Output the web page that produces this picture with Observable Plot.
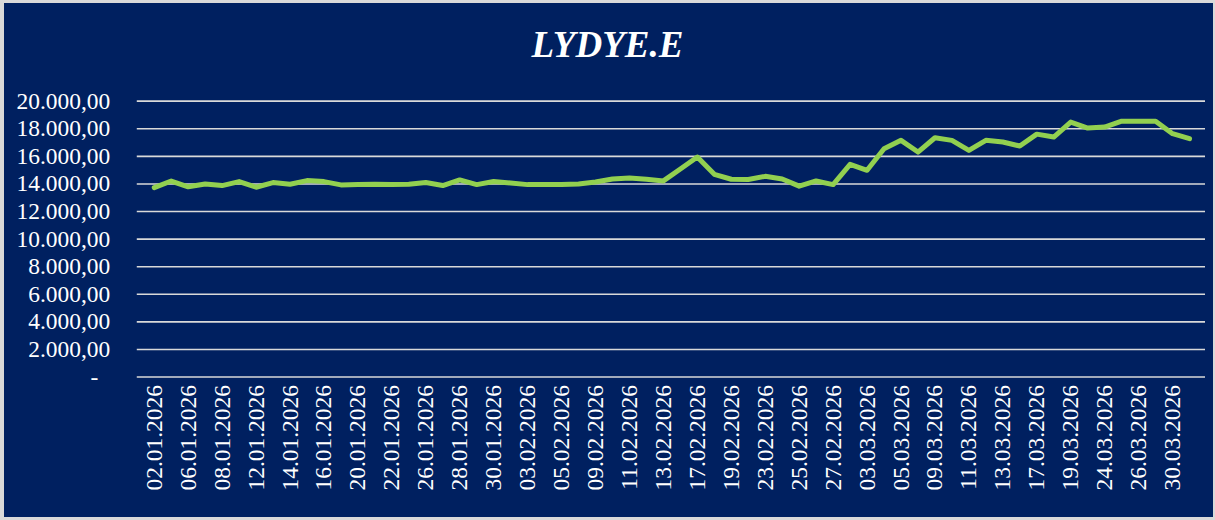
<!DOCTYPE html>
<html>
<head>
<meta charset="utf-8">
<script src="https://cdn.jsdelivr.net/npm/d3@7"></script>
<script src="https://cdn.jsdelivr.net/npm/@observablehq/plot@0.6"></script>
<style>
  html, body { margin: 0; padding: 0; background: #ffffff; }
  #frame {
    position: relative; width: 1215px; height: 520px; box-sizing: border-box;
    background: #002060; border-style: solid; border-color: #d9d9d9;
    border-width: 3px 2px 3px 4px; overflow: hidden;
  }
  #title {
    position: absolute; left: -4px; width: 1215px; top: 23px; text-align: center;
    font-family: "Liberation Serif", "Times New Roman", serif; font-style: italic; font-weight: bold;
    font-size: 37px; line-height: 37px; color: #ffffff;
  }
  #chart { position: absolute; left: -4px; top: 82px; }
  #chart svg { background: transparent; }
  #chart svg text { font-family: "Liberation Serif", "Times New Roman", serif; }
</style>
</head>
<body>
<div id="frame">
  <div id="title">LYDYE.E</div>
  <div id="chart"></div>
</div>
<script>
const dates = [
  "02.01.2026","05.01.2026","06.01.2026","07.01.2026","08.01.2026","09.01.2026","12.01.2026","13.01.2026",
  "14.01.2026","15.01.2026","16.01.2026","19.01.2026","20.01.2026","21.01.2026","22.01.2026","23.01.2026",
  "26.01.2026","27.01.2026","28.01.2026","29.01.2026","30.01.2026",
  "02.02.2026","03.02.2026","04.02.2026","05.02.2026","06.02.2026","09.02.2026","10.02.2026","11.02.2026",
  "12.02.2026","13.02.2026","16.02.2026","17.02.2026","18.02.2026","19.02.2026","20.02.2026","23.02.2026",
  "24.02.2026","25.02.2026","26.02.2026","27.02.2026",
  "02.03.2026","03.03.2026","04.03.2026","05.03.2026","06.03.2026","09.03.2026","10.03.2026","11.03.2026",
  "12.03.2026","13.03.2026","16.03.2026","17.03.2026","18.03.2026","19.03.2026","23.03.2026","24.03.2026",
  "25.03.2026","26.03.2026","27.03.2026","30.03.2026","31.03.2026"
];
const values = [
  13735,14210,13790,14000,13880,14170,13760,14100,
  13980,14240,14170,13930,13950,13970,13950,13970,
  14100,13880,14290,13950,14180,
  14070,13950,13950,13950,14000,14140,14360,14430,
  14340,14220,15080,15950,14700,14340,14320,14550,
  14360,13840,14215,13950,
  15420,14990,16550,17160,16310,17350,17160,16430,
  17160,17040,16750,17610,17400,18480,18050,18120,
  18550,18550,18550,17640,17280
];
const xTickLabels = dates.filter((d, i) => i % 2 === 0);
const yTicks = [2000,4000,6000,8000,10000,12000,14000,16000,18000,20000];
const gridValues = [0, ...yTicks];

const data = dates.map((d, i) => ({date: d, value: values[i]}));
const fmt = v => {
  const s = Math.round(v).toString().replace(/\B(?=(\d{3})+(?!\d))/g, ".");
  return s + ",00";
};
const serif = "'Liberation Serif', 'Times New Roman', serif";

const chart = Plot.plot({
  width: 1215,
  height: 435,
  marginLeft: 137,
  marginRight: 8,
  marginTop: 15.7,
  marginBottom: 143,
  style: {"background": "transparent", "color": "#ffffff", "font-family": serif, "font-size": "23.5px"},
  x: {type: "point", domain: dates, padding: 0.5},
  y: {domain: [0, 20000]},
  marks: [
    Plot.ruleY(gridValues, {stroke: "#d9d9d9", strokeWidth: 1.6}),
    Plot.line(data, {x: "date", y: "value", stroke: "#92D050", strokeWidth: 5, strokeLinejoin: "round", strokeLinecap: "round"}),
    Plot.axisY(yTicks, {tickFormat: fmt, tickSize: 0, tickPadding: 27, fontSize: 23.5, fontFamily: serif, fill: "#ffffff", label: null}),
    Plot.axisY([0], {tickFormat: () => "-", tickSize: 0, tickPadding: 39, fontSize: 23.5, fontFamily: serif, fill: "#ffffff", label: null}),
    Plot.axisX(xTickLabels, {tickRotate: -90, tickSize: 0, tickPadding: 8, fontSize: 23.5, fontFamily: serif, fill: "#ffffff", label: null})
  ]
});
document.getElementById("chart").appendChild(chart);
</script>
</body>
</html>
